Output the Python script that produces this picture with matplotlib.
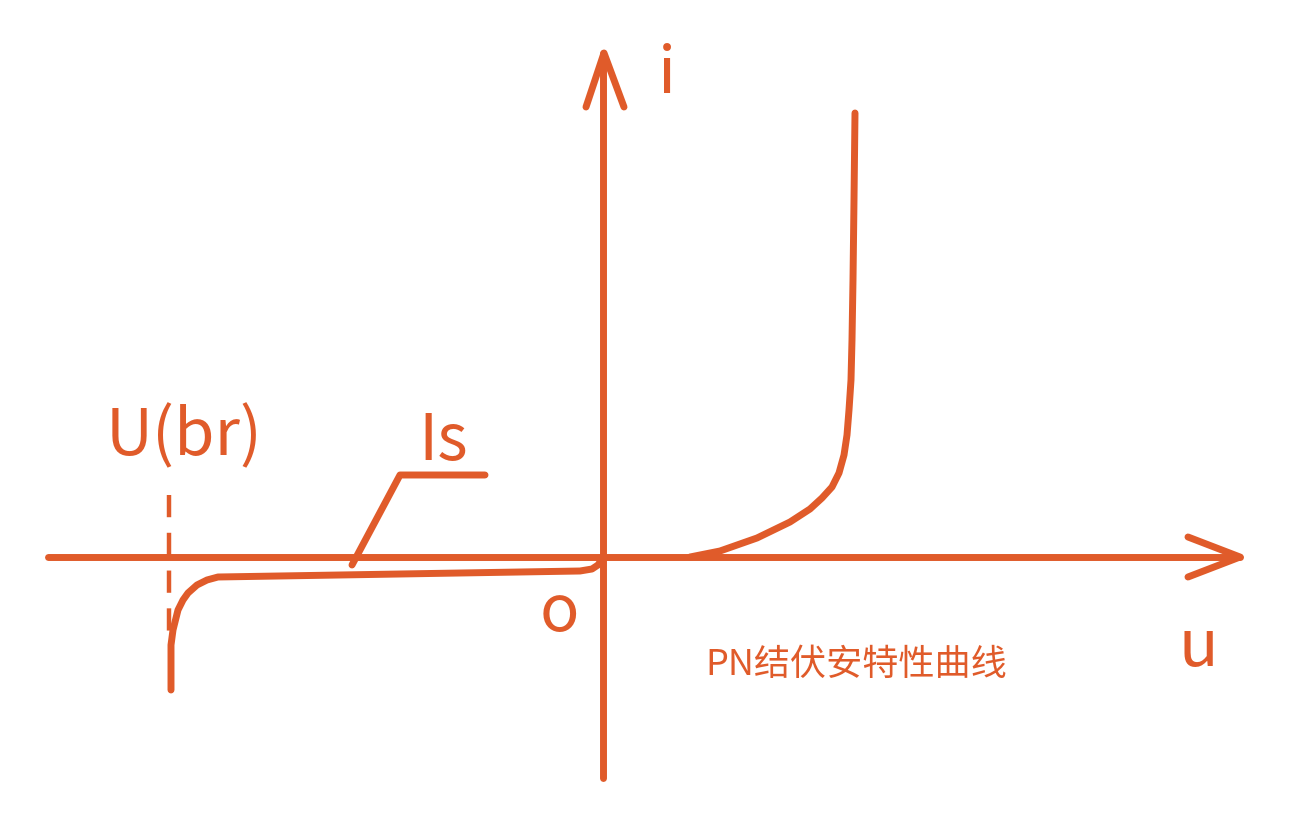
import matplotlib as mpl

mpl.use('Agg')
import matplotlib.pyplot as plt

plt.rcParams['font.family'] = ['Noto Sans CJK SC', 'DejaVu Sans']

# hand-drawn PN junction I-V sketch, units ~ pixels, origin at axis crossing
rev_u = [-432, -432, -430, -425, -420, -415, -406, -396, -385, -203, -23, -11, -5, -1]
rev_i = [-133, -88, -73, -53, -43, -36, -28, -23, -20, -17, -14, -12, -8, -2]

fwd_u = [87, 117, 154, 187, 207, 219, 229, 236, 241, 244, 246, 248, 249, 250, 251, 252]
fwd_i = [0, 6, 19, 35, 48, 59, 70, 84, 102, 122, 147, 177, 217, 277, 357, 444]

u_axis = [-555, 637]
i_axis = [-221, 504]
u_head_u = [585, 637, 585]
u_head_i = [20, 0, -20]
i_head_u = [-17, 1, 21]
i_head_i = [450, 504, 450]

ubr_u = [-434, -434]
ubr_i = [62, -76]

is_u = [-251, -203, -118]
is_i = [-8, 82, 82]

labels = ['i', 'u', 'o', 'Is', 'U(br)']
label_u = [64, 595, -44, -160, -419]
label_i = [482, -91, -56, 115, 120]
caption = 'PN结伏安特性曲线'

c = '#E05B2A'
lw = 5

fig = plt.figure(figsize=(13.03, 8.26), dpi=100)
ax = fig.add_axes([0, 0, 1, 1])
ax.set_xlim(-603, 700)
ax.set_ylim(-269, 557)
ax.axis('off')

kw = dict(color=c, linewidth=lw, solid_capstyle='round', solid_joinstyle='round')
ax.plot(u_axis, [0, 0], **kw)
ax.plot([0, 0], i_axis, **kw)
ax.plot(u_head_u, u_head_i, **kw)
ax.plot(i_head_u, i_head_i, **kw)
ax.plot(rev_u, rev_i, **kw)
ax.plot(fwd_u, fwd_i, **kw)
ax.plot(is_u, is_i, **kw)
ax.plot(ubr_u, ubr_i, color=c, linewidth=3.2, linestyle=(0, (5, 3.5)))

for t, x, y in zip(labels, label_u, label_i):
    ax.text(x, y, t, color=c, fontsize=47, ha='center', va='center')
ax.text(253, -108, caption, color=c, fontsize=26, ha='center', va='center')

fig.savefig('out.png', dpi=100)
